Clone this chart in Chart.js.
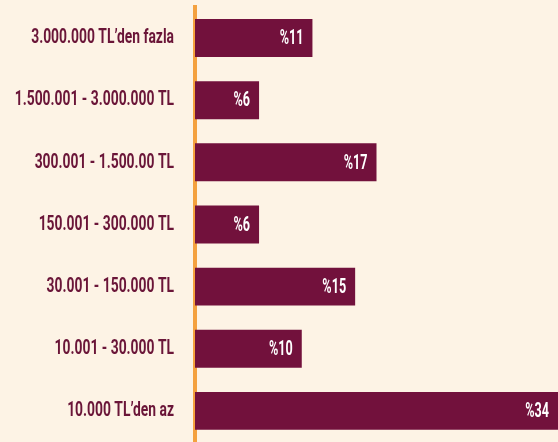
<!DOCTYPE html>
<html>
<head>
<meta charset="utf-8">
<script src="https://cdn.jsdelivr.net/npm/chart.js@4"></script>
<style>
  html, body { margin: 0; padding: 0; background: #fdf3e5; }
  #wrap { width: 558px; height: 442px; position: relative; }
</style>
</head>
<body>
<div id="wrap"><canvas id="income_bar"></canvas></div>
<script>
// income brackets, top to bottom
const brackets = [
    "3.000.000 TL’den fazla",
    "1.500.001 - 3.000.000 TL",
    "300.001 - 1.500.00 TL",
    "150.001 - 300.000 TL",
    "30.001 - 150.000 TL",
    "10.001 - 30.000 TL",
    "10.000 TL’den az"
];
const shares = [11, 6, 17, 6, 15, 10, 34];

const barColor = "#72113c";
const labelFont = "Roboto, 'DejaVu Sans', sans-serif";
const squeeze = 0.66;      // the original type is a very narrow face
const valueSqueeze = 0.6;

// writes %value near the end of each bar
const valueLabels = {
    id: 'valueLabels',
    afterDatasetsDraw(chart) {
        const ctx = chart.ctx;
        const meta = chart.getDatasetMeta(0);
        ctx.save();
        ctx.fillStyle = "#ffffff";
        ctx.font = "bold 21px " + labelFont;
        ctx.textAlign = "right";
        ctx.textBaseline = "middle";
        meta.data.forEach((bar, i) => {
            const x = bar.x - 9;
            ctx.save();
            ctx.translate(x, 0);
            ctx.scale(valueSqueeze, 1);
            ctx.fillText("%" + shares[i], 0, bar.y + 1);
            ctx.restore();
        });
        ctx.restore();
    }
};

// narrow the category labels around their right edge
const narrowTicks = {
    id: 'narrowTicks',
    beforeDraw(chart) {
        const scale = chart.scales.y;
        if (scale._narrowed) return;
        const orig = scale.drawLabels;
        scale._computeLabelArea = () => undefined;
        scale.drawLabels = function (area) {
            const ctx = this.ctx;
            const x0 = this.right - this.options.grid.tickLength;
            ctx.save();
            ctx.translate(x0, 0);
            ctx.scale(squeeze, 1);
            ctx.translate(-x0, 0);
            orig.call(this, area);
            ctx.restore();
        };
        scale._narrowed = true;
    }
};

const ctx = document.getElementById('income_bar');
const incomeChart = new Chart(ctx, {
    type: 'bar',
    data: {
        labels: brackets,
        datasets: [{
            data: shares,
            backgroundColor: barColor,
            barPercentage: 0.61,
            categoryPercentage: 1
        }]
    },
    options: {
        indexAxis: 'y',
        responsive: true,
        maintainAspectRatio: false,
        animation: false,
        layout: { padding: { top: 7, right: 0, bottom: 0, left: 0 } },
        plugins: {
            legend: { display: false },
            tooltip: { enabled: false }
        },
        scales: {
            x: {
                display: false,
                min: 0,
                max: 34
            },
            y: {
                afterFit(scale) { scale.width = 195; },
                grid: { display: false, drawTicks: true, tickLength: 21 },
                border: { display: true, color: "#f4a13f", width: 4 },
                ticks: {
                    padding: 0,
                    color: "#6a1538",
                    font: { family: labelFont, size: 21, weight: 'bold', lineHeight: 0.01 }
                }
            }
        }
    },
    plugins: [valueLabels, narrowTicks]
});
</script>
</body>
</html>
